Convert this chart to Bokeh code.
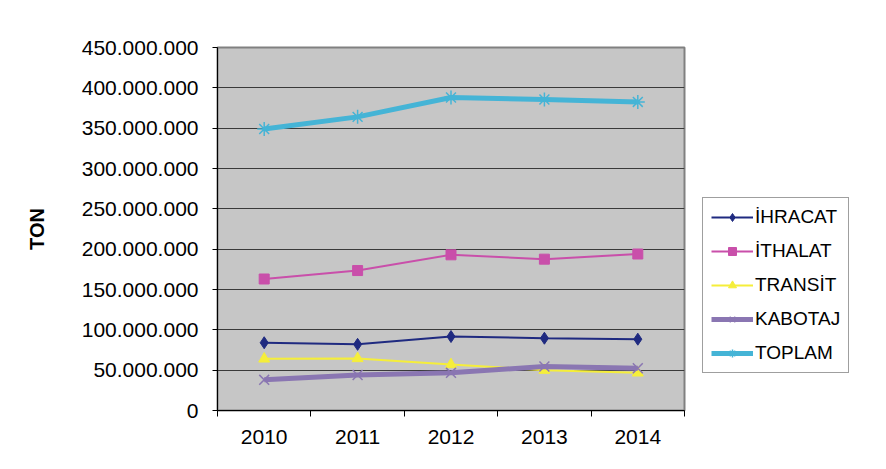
from bokeh.plotting import figure
from bokeh.models import FixedTicker, Legend, LegendItem, Range1d
from bokeh.embed import file_html
from bokeh.resources import INLINE

years = ["2010", "2011", "2012", "2013", "2014"]
ihracat = [84_000_000, 82_000_000, 91_700_000, 89_600_000, 88_400_000]
ithalat = [163_000_000, 173_500_000, 193_000_000, 187_600_000, 194_000_000]
transit = [64_000_000, 64_500_000, 57_000_000, 50_000_000, 46_700_000]
kabotaj = [38_000_000, 44_000_000, 46_700_000, 54_500_000, 52_400_000]
toplam = [349_000_000, 364_000_000, 388_000_000, 385_500_000, 382_500_000]
y_ticks = list(range(0, 450_000_001, 50_000_000))

x = [i + 1 for i in range(len(years))]

p = figure(frame_width=467, frame_height=363, output_backend="svg", toolbar_location=None,
           x_range=Range1d(0.5, len(years) + 0.5), y_range=Range1d(0, 450_000_000),
           min_border_left=217, min_border_right=186, min_border_top=47, min_border_bottom=43)
p.background_fill_color = "#C6C6C6"
p.border_fill_color = "white"
p.outline_line_color = "#808080"
p.outline_line_width = 2

p.xgrid.visible = False
p.ygrid.grid_line_color = "#3a3a3a"
p.ygrid.grid_line_width = 1

p.xaxis.ticker = FixedTicker(ticks=x, minor_ticks=[i + 0.5 for i in range(len(years) + 1)])
p.xaxis.major_label_overrides = {xx: yy for xx, yy in zip(x, years)}
p.xaxis.major_tick_out = 0
p.xaxis.major_tick_in = 0
p.xaxis.minor_tick_out = 6
p.xaxis.minor_tick_in = 0
p.xaxis.minor_tick_line_color = "black"
p.xaxis.axis_line_color = "black"
p.xaxis.major_label_standoff = 13
p.xaxis.major_label_text_font = "Liberation Sans"
p.xaxis.major_label_text_font_size = "21px"
p.xaxis.major_label_text_color = "black"

p.yaxis.ticker = FixedTicker(ticks=y_ticks, minor_ticks=[])
p.yaxis.major_label_overrides = {t: f"{t:,}".replace(",", ".") for t in y_ticks}
p.yaxis.major_tick_out = 5
p.yaxis.major_tick_in = 0
p.yaxis.axis_line_color = "black"
p.yaxis.major_label_standoff = 14
p.yaxis.major_label_text_font = "Liberation Sans"
p.yaxis.major_label_text_font_size = "21px"
p.yaxis.major_label_text_color = "black"
p.yaxis.axis_label = "TON"
p.yaxis.axis_label_text_font = "Liberation Sans"
p.yaxis.axis_label_text_font_size = "20px"
p.yaxis.axis_label_text_font_style = "bold"
p.yaxis.axis_label_text_color = "black"
p.yaxis.axis_label_standoff = 31

series = [
    ("İHRACAT", ihracat, "#1F2A80", 2, "diamond", 12),
    ("İTHALAT", ithalat, "#C94FAA", 2, "square", 10),
    ("TRANSİT", transit, "#F5EE3A", 2, "triangle", 11),
    ("KABOTAJ", kabotaj, "#8A76B2", 5, "x", 14),
    ("TOPLAM", toplam, "#45B4D6", 5, "asterisk", 14),
]

items = []
for name, vals, color, lw, marker, size in series:
    r1 = p.line(x, vals, line_color=color, line_width=lw)
    r2 = p.scatter(x, vals, marker=marker, size=size, fill_color=color,
                   line_color=color, line_width=1.5 if marker in ("x", "asterisk") else 1)
    items.append(LegendItem(label=name, renderers=[r1, r2]))

legend = Legend(items=items, location=(18, 37))
legend.label_text_font = "Liberation Sans"
legend.label_text_font_size = "19px"
legend.label_text_color = "black"
legend.glyph_width = 42
legend.glyph_height = 20
legend.label_height = 20
legend.spacing = 12
legend.padding = 8
legend.margin = 0
legend.label_standoff = 2
legend.border_line_color = "#404040"
legend.border_line_width = 1
legend.background_fill_color = "white"
legend.background_fill_alpha = 1
p.add_layout(legend, "right")

open("out.html", "w").write(file_html(p, INLINE))
